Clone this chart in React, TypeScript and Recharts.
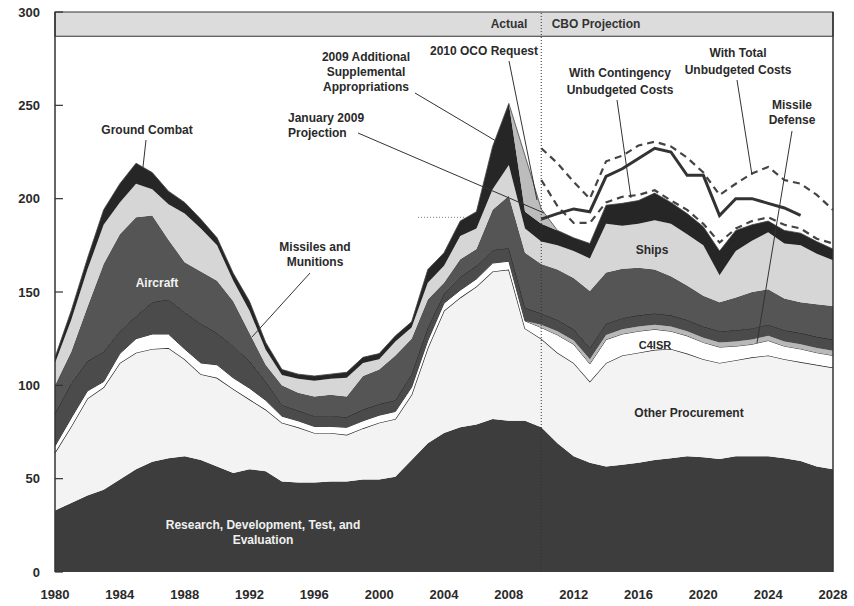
import React from 'react';
import {
  ComposedChart,
  Area,
  Line,
  XAxis,
  YAxis,
  ReferenceArea,
  ReferenceLine
} from 'recharts';

// Years on the x axis
const years = [
  1980, 1981, 1982, 1983, 1984, 1985, 1986, 1987, 1988, 1989,
  1990, 1991, 1992, 1993, 1994, 1995, 1996, 1997, 1998, 1999,
  2000, 2001, 2002, 2003, 2004, 2005, 2006, 2007, 2008, 2009,
  2010, 2011, 2012, 2013, 2014, 2015, 2016, 2017, 2018, 2019,
  2020, 2021, 2022, 2023, 2024, 2025, 2026, 2027, 2028
];

// Stacked investment categories (billions of dollars)
const rdte = [
  33, 37, 41, 44, 49.5, 55, 59, 61, 62, 60,
  56.5, 53, 55, 54, 48.5, 48, 48, 48.5, 48.5, 49.5,
  49.5, 51, 60, 69, 74.5, 77.5, 79, 82, 81, 81,
  77.5, 69, 62, 58.5, 56.5, 57.5, 58.5, 60, 61, 62,
  61.5, 60.5, 62, 62, 62, 61, 59.5, 56.5, 55
];
const otherProcurement = [
  31, 41, 52, 55, 62.5, 62.5, 60.5, 59, 52, 46,
  47.5, 45, 37.5, 33, 31.5, 29.5, 26.5, 26, 25, 27.5,
  30.5, 31, 35, 51, 65.5, 69.5, 74, 79, 81, 49.5,
  47.5, 48.5, 50, 43.5, 55.5, 58.5, 59, 59, 58.5, 55,
  52.5, 51.5, 51.5, 53, 54, 53, 53, 54.5, 54.5
];
const c4isr = [
  3.5, 4.5, 4, 3, 5, 7.5, 8, 7.5, 5.5, 6,
  7, 6, 6, 5, 3.5, 3.5, 3.5, 3.5, 4, 4,
  4, 4, 4, 4, 4, 4, 4, 4.5, 4.5, 4,
  6, 9.5, 10, 9.5, 12.5, 11.5, 11.5, 11, 9.5, 9.5,
  9, 8.5, 7.5, 7, 8, 7, 7, 6.5, 6.5
];
const missileDefense = [
  0, 0, 0, 0, 0, 0, 0, 0, 0, 0,
  0, 0, 0, 0, 0, 0, 0, 0, 0, 0,
  0, 0, 0, 0, 0, 0, 0, 0, 0, 0,
  1.5, 2, 2, 2.5, 2.5, 2.5, 2.5, 2.5, 2.5, 2.5,
  2.5, 2.5, 2.5, 2.5, 2.5, 2.5, 2.5, 2.5, 2.5
];
const missilesMunitions = [
  17.5, 18.5, 16, 16, 12, 12, 17, 18.5, 19.5, 21,
  17, 17, 14.5, 10, 6, 5.5, 5.5, 5.5, 5.5, 6,
  6, 6, 7, 7, 5, 7, 7, 7, 7, 7,
  6, 6, 6, 6, 6, 6, 6, 6, 6, 6,
  6, 6, 6, 6, 6, 6, 6, 6, 6
];
const aircraft = [
  15, 17, 29, 47, 52, 53, 46.5, 32, 27, 28,
  28, 24, 15, 9, 10.5, 9.5, 10.5, 11.5, 11, 18,
  18.5, 24, 19, 15, 6, 9.5, 9, 21.5, 28, 29.5,
  26.5, 27, 27.5, 30.5, 27.5, 26.5, 25.5, 23.5, 21, 18.5,
  16.5, 15.5, 17.5, 19.5, 19, 17, 16.5, 17.5, 18
];
const ships = [
  12, 17, 20, 21, 17, 18, 14, 19, 26, 23,
  19, 11, 12, 8, 5.5, 7.5, 8.5, 8.5, 10, 7,
  5.5, 7.5, 6, 9, 9, 12.5, 11, 11, 16.5, 13,
  12, 13, 14.5, 17.5, 26, 23, 23.5, 26.5, 28, 27.5,
  27, 14.5, 25, 27.5, 30.5, 29.5, 30.5, 27, 24.5
];
const groundCombat = [
  3, 5, 6, 8, 10, 11, 9, 7, 6, 5,
  4, 4, 5, 4, 3, 2.5, 2.5, 2.5, 3, 3,
  3, 3, 3, 7, 7, 8, 9, 23, 33, 9,
  9.5, 8, 7, 8, 10, 12, 12.5, 14.5, 11.5, 11,
  10, 13, 11, 8.5, 6, 7, 6.5, 6.5, 6
];

// 2010 OCO request wedge on top of the stack
const ocoYears = [2009, 2010];
const ocoRequest = [30, 8];

// Lines in the projection period, starting in 2010
const projStart = 2010;
const january2009Projection = [
  189, 192, 194.5, 193, 212, 216, 221.5, 227, 225, 212.5,
  212.5, 191, 200, 200, 197.5, 195, 191
];
const withContingency = [
  210, 196, 187, 187, 198, 201, 202, 204.5, 199, 194,
  186.5, 176.5, 184, 188, 190, 186, 184, 178.5, 176
];
const withTotalUnbudgeted = [
  227, 219, 209, 200, 220, 223, 228.5, 230.5, 228, 222,
  214, 202, 208, 213.5, 217, 210, 208, 202, 194
];

const xTicks = [1980, 1984, 1988, 1992, 1996, 2000, 2004, 2008, 2012, 2016, 2020, 2024, 2028];
const yTicks = [0, 50, 100, 150, 200, 250, 300];

const data = years.map((year, i) => {
  const p = year - projStart;
  const o = ocoYears.indexOf(year);
  return {
    year,
    rdte: rdte[i],
    otherProcurement: otherProcurement[i],
    c4isr: c4isr[i],
    missileDefense: missileDefense[i],
    missilesMunitions: missilesMunitions[i],
    aircraft: aircraft[i],
    ships: ships[i],
    groundCombat: groundCombat[i],
    oco: o >= 0 ? ocoRequest[o] : 0,
    jan2009: p >= 0 && p < january2009Projection.length ? january2009Projection[p] : null,
    contingency: p >= 0 ? withContingency[p] : null,
    total: p >= 0 ? withTotalUnbudgeted[p] : null
  };
});

const FONT = '"Liberation Sans", Arial, sans-serif';
const INK = '#2a2a2a';

const YTick = (props: any) => {
  const { x, y, payload } = props;
  return (
    <g>
      <line x1={x} x2={x + 8} y1={y} y2={y} stroke="#333" strokeWidth={1.2} />
      <text x={x - 15} y={y} dy={4.5} textAnchor="end" fontFamily={FONT} fontSize={13} fontWeight={700} fill={INK}>
        {payload.value}
      </text>
    </g>
  );
};

const labelStyle = { fontFamily: FONT, fontSize: 12, fontWeight: 700 } as const;

function Annotations() {
  const t = (x: number, y: number, s: string, fill = INK, anchor: 'middle' | 'start' = 'middle', size = 12) => (
    <text x={x} y={y} textAnchor={anchor} fill={fill} style={{ ...labelStyle, fontSize: size }}>{s}</text>
  );
  const ptr = (x1: number, y1: number, x2: number, y2: number) => (
    <line x1={x1} y1={y1} x2={x2} y2={y2} stroke="#333" strokeWidth={1} />
  );
  return (
    <svg width={854} height={606} style={{ position: 'absolute', left: 0, top: 0, pointerEvents: 'none' }}>
      {t(509, 28, 'Actual', '#333')}
      {t(596, 28, 'CBO Projection', '#333')}

      {t(147, 134, 'Ground Combat')}
      {ptr(146, 140, 143, 167)}

      {t(157, 287, 'Aircraft', '#f2f2f2')}

      {t(315, 251, 'Missiles and')}
      {t(315, 266, 'Munitions')}
      {ptr(310, 273, 252, 337)}

      {t(288, 122, 'January 2009', INK, 'start')}
      {t(288, 137, 'Projection', INK, 'start')}
      {ptr(358, 133, 544, 213)}

      {t(366, 61, '2009 Additional')}
      {t(366, 76, 'Supplemental')}
      {t(366, 91, 'Appropriations')}
      {ptr(415, 93, 496, 141)}

      {t(484, 55, '2010 OCO Request')}
      {ptr(509, 61, 537, 200)}

      {t(620, 77, 'With Contingency')}
      {t(620, 94, 'Unbudgeted Costs')}
      {ptr(617, 100, 631, 198)}

      {t(738, 57, 'With Total')}
      {t(738, 74, 'Unbudgeted Costs')}
      {ptr(737, 80, 752, 175)}

      {t(792, 109, 'Missile')}
      {t(792, 124, 'Defense')}
      {ptr(792, 131, 757, 343)}

      {t(652, 254, 'Ships')}
      {t(655, 349, 'C4ISR', INK, 'middle', 11)}
      {t(689, 417, 'Other Procurement')}

      {t(263, 529, 'Research, Development, Test, and', '#f0f0f0')}
      {t(263, 544, 'Evaluation', '#f0f0f0')}
    </svg>
  );
}

export default function App() {
  return (
    <div style={{ position: 'relative', width: 854, height: 606, background: '#fff' }}>
      <style>{'body{margin:0;}'}</style>
      <ComposedChart width={854} height={606} data={data} margin={{ top: 12, right: 21, bottom: 0, left: 0 }}>
        <XAxis
          dataKey="year"
          type="number"
          domain={[1980, 2028]}
          ticks={xTicks}
          axisLine={false}
          tickLine={false}
          tickSize={0}
          tickMargin={18}
          height={34}
          tick={{ fontFamily: FONT, fontSize: 13, fontWeight: 700, fill: INK }}
        />
        <YAxis
          type="number"
          domain={[0, 300]}
          ticks={yTicks}
          width={55}
          tickSize={0}
          tickMargin={0}
          tickLine={false}
          axisLine={{ stroke: '#333', strokeWidth: 1.5 }}
          tick={<YTick />}
        />
        <ReferenceArea x1={1980} x2={2028} y1={287} y2={300} fill="#dcdcdc" fillOpacity={1} stroke="#333" strokeWidth={1.2} />

        <Area type="linear" dataKey="rdte" stackId="a" fill="#3d3d3d" fillOpacity={1} stroke="none" isAnimationActive={false} dot={false} activeDot={false} />
        <Area type="linear" dataKey="otherProcurement" stackId="a" fill="#f3f3f3" fillOpacity={1} stroke="#222" strokeWidth={1.3} isAnimationActive={false} dot={false} activeDot={false} />
        <Area type="linear" dataKey="c4isr" stackId="a" fill="#ffffff" fillOpacity={1} stroke="#333" strokeWidth={1} isAnimationActive={false} dot={false} activeDot={false} />
        <Area type="linear" dataKey="missileDefense" stackId="a" fill="#b8b8b8" fillOpacity={1} stroke="none" isAnimationActive={false} dot={false} activeDot={false} />
        <Area type="linear" dataKey="missilesMunitions" stackId="a" fill="#4b4b4b" fillOpacity={1} stroke="#1e1e1e" strokeWidth={1} isAnimationActive={false} dot={false} activeDot={false} />
        <Area type="linear" dataKey="aircraft" stackId="a" fill="#555555" fillOpacity={1} stroke="none" isAnimationActive={false} dot={false} activeDot={false} />
        <Area type="linear" dataKey="ships" stackId="a" fill="#d6d6d6" fillOpacity={1} stroke="none" isAnimationActive={false} dot={false} activeDot={false} />
        <Area type="linear" dataKey="groundCombat" stackId="a" fill="#262626" fillOpacity={1} stroke="none" isAnimationActive={false} dot={false} activeDot={false} />
        <Area type="linear" dataKey="oco" stackId="a" fill="#b0b0b0" fillOpacity={0.85} stroke="#444" strokeWidth={0.8} isAnimationActive={false} dot={false} activeDot={false} />

        <ReferenceLine x={2010} stroke="#333" strokeDasharray="1 2" strokeWidth={1} />
        <ReferenceLine x={2028} stroke="#333" strokeWidth={1.5} />
        <ReferenceLine segment={[{ x: 2002.4, y: 190 }, { x: 2005.3, y: 190 }]} stroke="#777" strokeDasharray="1 2" />

        <Line type="linear" dataKey="total" stroke="#444" strokeWidth={2.2} strokeDasharray="7 5" dot={false} activeDot={false} isAnimationActive={false} connectNulls={false} />
        <Line type="linear" dataKey="contingency" stroke="#444" strokeWidth={2.2} strokeDasharray="7 5" dot={false} activeDot={false} isAnimationActive={false} connectNulls={false} />
        <Line type="linear" dataKey="jan2009" stroke="#333" strokeWidth={3} dot={false} activeDot={false} isAnimationActive={false} connectNulls={false} />
      </ComposedChart>
      <Annotations />
    </div>
  );
}
